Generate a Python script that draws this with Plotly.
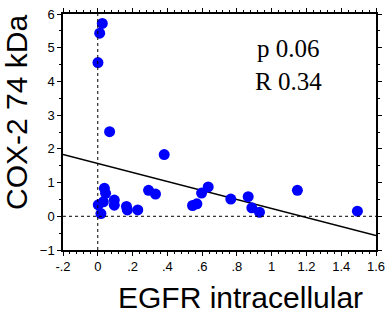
import plotly.graph_objects as go

# Data
egfr = [0.026, 0.011, 0.001, 0.068, 0.382, 0.038, 0.045, 0.003, 0.032, 0.018,
        0.095, 0.095, 0.165, 0.170, 0.230, 0.292, 0.332, 0.545, 0.570, 0.597,
        0.635, 0.765, 0.865, 0.886, 0.930, 1.148, 1.493]
cox2 = [5.72, 5.43, 4.56, 2.51, 1.83, 0.83, 0.68, 0.34, 0.43, 0.08,
        0.48, 0.33, 0.29, 0.19, 0.19, 0.77, 0.66, 0.32, 0.37, 0.69,
        0.87, 0.51, 0.58, 0.25, 0.12, 0.77, 0.15]

fit_intercept = 1.569
fit_slope = -1.335
fit_x = [-0.2, 1.6]
fit_y = [fit_intercept + fit_slope * x for x in fit_x]

x_tickvals = [-0.2, 0, 0.2, 0.4, 0.6, 0.8, 1.0, 1.2, 1.4, 1.6]
x_ticktext = ["-.2", "0", ".2", ".4", ".6", ".8", "1", "1.2", "1.4", "1.6"]
y_tickvals = [-1, 0, 1, 2, 3, 4, 5, 6]

stats_text = "p 0.06<br>R 0.34"
x_title = "EGFR intracellular"
y_title = "COX-2 74 kDa"

fig = go.Figure()
fig.add_trace(go.Scatter(x=fit_x, y=fit_y, mode="lines",
                         line=dict(color="black", width=1.5), hoverinfo="skip"))
fig.add_trace(go.Scatter(x=egfr, y=cox2, mode="markers",
                         marker=dict(color="#0000ff", size=11, line=dict(width=0))))

fig.add_vline(x=0, line=dict(color="black", width=1, dash="dot"))
fig.add_hline(y=0, line=dict(color="black", width=1, dash="dot"))

axis_common = dict(showgrid=False, zeroline=False, showline=True, linecolor="black",
                   linewidth=1.5, mirror="allticks", ticks="outside", ticklen=4,
                   tickwidth=1, tickcolor="black", automargin=False,
                   tickfont=dict(family="Liberation Sans, Arial", size=13, color="black"))

fig.update_xaxes(range=[-0.2, 1.6], tickvals=x_tickvals, ticktext=x_ticktext,
                 minor=dict(dtick=0.04, tick0=0, ticks="outside", ticklen=2,
                            tickwidth=1, tickcolor="black"),
                 **axis_common)
fig.update_yaxes(range=[-1, 6], tickvals=y_tickvals,
                 minor=dict(dtick=0.5, tick0=0, ticks="outside", ticklen=2,
                            tickwidth=1, tickcolor="black"),
                 **axis_common)

fig.add_annotation(text=stats_text, xref="paper", yref="paper", x=0.72, y=0.785,
                   xanchor="center", yanchor="middle", showarrow=False,
                   font=dict(family="Liberation Serif, Times New Roman", size=25, color="black"))
fig.add_annotation(text=x_title, xref="paper", yref="paper", x=(241 - 63) / 313,
                   y=-(297 - 250) / 236,
                   xanchor="center", yanchor="middle", showarrow=False, borderpad=0,
                   font=dict(family="Liberation Sans, Arial", size=30, color="black"))
fig.add_annotation(text=y_title, xref="paper", yref="paper", x=-(63 - 16) / 313,
                   y=1 - (113 - 14) / 236,
                   xanchor="center", yanchor="middle", showarrow=False, textangle=-90,
                   font=dict(family="Liberation Sans, Arial", size=30, color="black"))

fig.update_layout(width=388, height=313, showlegend=False,
                  margin=dict(l=63, r=12, t=14, b=63, autoexpand=False),
                  plot_bgcolor="white", paper_bgcolor="white")

fig.write_html("out.html", config={"displayModeBar": False},
               post_script="document.body.style.margin='0';document.body.style.overflow='hidden';")
